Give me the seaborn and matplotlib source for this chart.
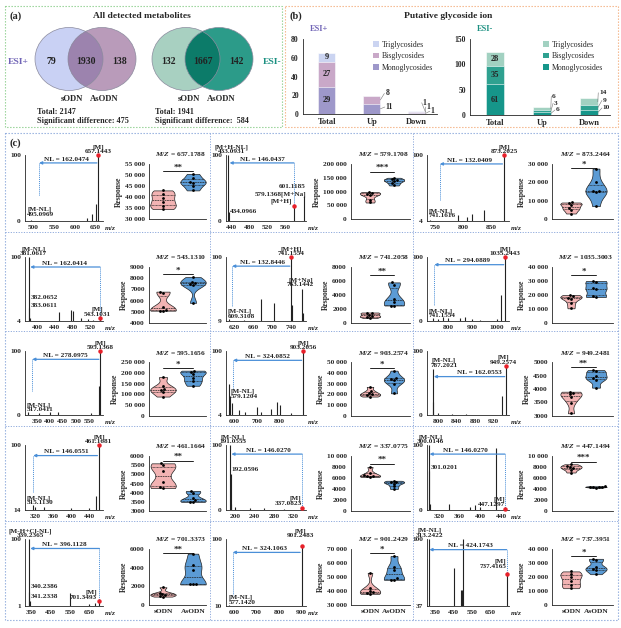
import warnings
warnings.filterwarnings("ignore")
import numpy as np
import pandas as pd
import matplotlib
matplotlib.use("Agg")
import matplotlib.pyplot as plt
import seaborn as sns
from matplotlib.patches import Ellipse, Rectangle, Patch

# ---------------- data ----------------
venn_groups = ["sODN", "AsODN"]
venn_pos_counts = [79, 1930, 138]
venn_neg_counts = [132, 1667, 142]
venn_pos_summary = ["Total: 2147", "Significant difference: 475"]
venn_neg_summary = ["Total: 1941", "Significant difference:  584"]

bar_cats = ["Total", "Up", "Down"]
glyco_types = ["Triglycosides", "Bisglycosides", "Monoglycosides"]
pos_mono = [29, 11, 1]
pos_bi = [27, 8, 1]
pos_tri = [9, 0, 1]
neg_mono = [61, 6, 10]
neg_bi = [35, 3, 9]
neg_tri = [28, 6, 14]
pos_yticks = [0, 20, 40, 60, 80]
neg_yticks = [0, 50, 100, 150]

spec_mz = [
    [495.0969, 630, 641, 650, 657.1443],
    [433.0931, 434.0966, 579.1368, 601.1185],
    [741.1616, 791, 806, 815, 837, 873.2025],
    [381.0617, 382.0652, 383.0611, 450, 478, 482, 500, 515, 528, 543.1031],
    [609.3108, 640, 677, 704, 741.1554, 743, 763.1442, 766],
    [741.1554, 760, 780, 800, 850, 870, 900, 930, 1000, 1017, 1035.2443],
    [317.0411, 360, 400, 430, 560, 590, 595.1368],
    [579.1204, 583, 590, 620, 650, 700, 720, 760, 790, 800, 850, 903.2056],
    [787.2021, 789, 800, 830, 860, 940, 949.2574],
    [315.1130, 320, 340, 400, 440, 455, 461.1681],
    [191.0553, 192.0596, 193, 200, 230, 260, 300, 337.0823],
    [300.0146, 301.0201, 302, 340, 380, 390, 400, 430, 447.1297],
    [339.2365, 340.2386, 341.2338, 550, 650, 680, 701.3493],
    [577.1420, 901.2483],
    [313.2422, 450, 490, 495, 500, 737.4165],
]
spec_int = [
    [2, 5, 10, 26, 100],
    [100, 14, 22, 38],
    [6, 13, 10, 14, 20, 100],
    [100, 24, 9, 18, 20, 19, 9, 7, 6, 8],
    [12, 11, 40, 35, 100, 32, 55, 20],
    [5, 3, 6, 4, 5, 7, 3, 2, 3, 40, 100],
    [4, 3, 5, 4, 3, 45, 100],
    [50, 32, 22, 12, 9, 16, 9, 13, 24, 19, 7, 100],
    [72, 20, 3, 2, 2, 30, 76],
    [20, 18, 18, 17, 17, 32, 100],
    [100, 55, 10, 5, 3, 3, 2, 3],
    [100, 60, 10, 10, 5, 8, 4, 95, 2],
    [100, 22, 8, 20, 4, 5, 8],
    [12, 90],
    [100, 73, 52, 52, 100, 67],
]
prec_mz = [657.1443, 579.1368, 873.2025, 543.1031, 741.1554, 1035.2443, 595.1368,
           903.2056, 949.2574, 461.1681, 337.0823, 447.1297, 701.3493, 901.2483, 737.4165]
nl_labels = ["NL = 162.0474", "NL = 146.0437", "NL = 132.0409", "NL = 162.0414",
             "NL = 132.8446", "NL = 294.0889", "NL = 278.0975", "NL = 324.0852",
             "NL = 162.0553", "NL = 146.0551", "NL = 146.0270", "NL = 146.0270",
             "NL = 396.1128", "NL = 324.1063", "NL = 424.1743"]
spec_xticks = [
    [500, 550, 600, 650], [440, 480, 520, 560], [750, 800, 850],
    [400, 440, 480, 520], [620, 660, 700, 740], [800, 900, 1000],
    [350, 400, 450, 500, 550], [600, 700, 800], [800, 840, 880, 920],
    [320, 360, 400, 440], [200, 240, 280, 320], [320, 360, 400, 440],
    [350, 450, 550, 650], [600, 700, 800, 900], [350, 450, 550, 650],
]
spec_ybottom = [0, 0, 4, 4, 9, 0, 0, 4, 0, 14, 0, 0, 1, 10, 37]
spec_labels = [
    [("[M]\n657.1443", 657, "c"), ("[M-NL]\n495.0969", 485, "l")],
    [("[M+H-NL]\n433.0931", 440, "c"), ("434.0966", 437, "l"), ("601.1185", 604, "r"),
     ("579.1368[M+Na]", 607, "r"), ("[M+H]", 574, "r")],
    [("[M]\n873.2025", 873, "c"), ("[M-NL]\n741.1616", 738, "l")],
    [("[M-NL]\n381.0617", 392, "c"), ("382.0652", 385, "l"), ("383.0611", 385, "l"),
     ("[M]\n543.1031", 536, "c")],
    [("[M+H]\n741.1554", 741, "c"), ("[M+Na]\n763.1442", 760, "c"), ("[M-NL]\n609.3108", 607, "l")],
    [("[M]\n1035.2443", 1035, "c"), ("[M-NL]\n741.1554", 722, "l")],
    [("[M]\n595.1368", 595, "c"), ("[M-NL]\n317.0411", 312, "l")],
    [("[M]\n903.2056", 903, "c"), ("[M-NL]\n579.1204", 585, "l")],
    [("[M-NL]\n787.2021", 784, "l"), ("[M]\n949.2574", 943, "c")],
    [("[M]\n461.1681", 461, "c"), ("[M-NL]\n315.1130", 302, "l")],
    [("[M-NL]\n191.0553", 196, "c"), ("192.0596", 194, "l"), ("[M]\n337.0823", 336, "r")],
    [("[M-NL]\n300.0146", 304, "c"), ("301.0201", 304, "l"), ("[M]\n447.1297", 447, "r")],
    [("[M-H+Cl-NL]\n339.2365", 345, "c"), ("340.2386", 345, "l"), ("341.2338", 345, "l"),
     ("[M]\n701.3493", 690, "r")],
    [("[M]\n901.2483", 895, "c"), ("[M-NL]\n577.1420", 575, "l")],
    [("[M-NL]\n313.2422", 320, "c"), ("[M]\n737.4165", 735, "r")],
]
mz_titles = ["657.1788", "579.1708", "873.2464", "543.1310", "741.2058", "1035.3003",
             "595.1656", "903.2574", "949.2481", "461.1664", "337.0775", "447.1494",
             "701.3373", "901.2429", "737.3951"]
sig_marks = ["**", "***", "*", "*", "**", "*", "*", "*", "**", "**", "**", "***", "**", "*", "*"]
sodn_resp = [
    [43000, 41500, 39500, 37500, 35800, 34500],
    [98000, 95000, 90000, 88000, 70000, 60000],
    [9000, 8500, 7500, 6000, 5000, 3000],
    [6800, 6700, 5400, 5200, 5100, 5100],
    [1500, 1400, 1200, 1000, 900, 700],
    [20000, 19000, 18000, 17500, 14000, 10500],
    [180000, 140000, 125000, 120000, 110000, 90000],
    [27000, 23000, 21000, 20000, 19000, 18000],
    [3900, 3850, 3800, 3700, 3500, 3100],
    [5600, 5500, 5200, 4600, 4300, 4250],
    [8000, 7000, 6500, 6400, 6300, 6200],
    [8500, 8200, 8000, 7800, 7500, 7000],
    [1900, 1300, 1200, 1100, 1000, 900],
    [53000, 42000, 40000, 39000, 38500, 38000],
    [24000, 22000, 20000, 17000, 14000, 12000],
]
asodn_resp = [
    [50500, 48500, 47000, 46500, 45000, 43000],
    [150000, 145000, 140000, 138000, 130000, 122000],
    [27500, 20000, 15000, 15000, 14500, 7000],
    [8100, 7700, 7600, 7500, 7400, 5800],
    [5800, 5500, 3500, 3000, 2500, 2500],
    [30000, 29500, 25000, 24000, 19000, 18500],
    [210000, 205000, 195000, 175000, 160000, 140000],
    [42000, 35000, 34000, 33000, 30000, 21000],
    [4700, 4650, 4500, 4400, 4350, 4050],
    [4100, 4000, 3700, 3600, 3500, 3500],
    [5500, 5300, 5200, 5000, 4500, 4000],
    [4500, 4450, 4400, 4350, 4300, 4200],
    [5500, 4300, 3800, 2300, 2200, 2200],
    [65000, 57000, 55000, 49000, 48000, 48000],
    [33000, 32000, 27000, 26000, 25000, 22000],
]
resp_ticks = [
    [30000, 35000, 40000, 45000, 50000, 55000],
    [0, 50000, 100000, 150000, 200000],
    [0, 10000, 20000, 30000],
    [4000, 5000, 6000, 7000, 8000, 9000],
    [0, 2000, 4000, 6000, 8000],
    [0, 10000, 20000, 30000, 40000],
    [0, 50000, 100000, 150000, 200000, 250000],
    [0, 10000, 20000, 30000, 40000, 50000],
    [3000, 3500, 4000, 4500, 5000],
    [3000, 3500, 4000, 4500, 5000, 5500, 6000],
    [0, 2000, 4000, 6000, 8000, 10000],
    [0, 2000, 4000, 6000, 8000, 10000],
    [0, 2000, 4000, 6000],
    [30000, 40000, 50000, 60000, 70000],
    [0, 10000, 20000, 30000, 40000],
]

# ---------------- layout / style ----------------
spec_xlim = [(480, 668), (428, 606), (735, 882), (372, 550), (603, 772), (715, 1050),
             (305, 605), (565, 915), (775, 955), (298, 470), (182, 345), (297, 455),
             (318, 720), (565, 920), (305, 750)]
label_y = [
    [101, 6], [101, 10, 48, 37, 26], [101, 8], [101, 36, 24, 10], [101, 57, 12],
    [101, 4], [101, 4], [101, 28], [74, 78], [101, 20], [101, 58, 6], [101, 62, 5],
    [101, 26, 12, 10], [101, 12], [101, 72],
]
nl_pos = [(580, 90), (510, 90), (812, 89), (462, 87), (680, 89), (880, 90), (460, 89),
          (745, 88), (890, 62), (390, 88), (268, 88), (372, 88), (520, 88), (735, 84), (540, 92)]
arrow_y = [88, 88, 87, 85, 87, 88, 87, 86, 60, 86, 86, 86, 86, 82, 90]
arrow_head = [514, 436, 758, 384, 616, 745, 333, 596, 790, 316, 193, 302, 345, 595, 318]
dash_style = ["A", "B", "A", "B", "A", "A", "A", "A", "N", "A", "B", "B", "B", "A", "B"]
dash_low = [38, 0, 35, 0, 30, 25, 38, 45, 0, 38, 0, 0, 0, 25, 0]

W, H = 621, 628
spec_cols = [(25, 103), (226, 306), (427, 509)]
spec_rows = [(155, 221), (257, 321), (351, 415), (445, 510), (539, 606)]
vio_cols = [(149, 206), (351, 410), (552, 613)]
vio_rows = [(164, 219), (267, 323), (362, 416), (456, 511), (549, 605)]
vio_cat_px = [(163, 193), (370, 394), (571, 596)]

BLUE = "#4a8fd8"
PINK = "#f2b3b3"
VBLUE = "#5b9bd5"
POS_C = ["#cbd4f1", "#c9a8c8", "#9e98ca"]   # tri, bi, mono
NEG_C = ["#a2d1c1", "#2fa190", "#16968a"]
FS_TICK = 5.3
FS_ANN = 5.2

sns.set_style("white")
plt.rcParams["font.family"] = ["Liberation Serif", "DejaVu Serif"]
plt.rcParams["font.weight"] = "bold"
plt.rcParams["axes.labelweight"] = "bold"
plt.rcParams["mathtext.fontset"] = "custom"
plt.rcParams["mathtext.it"] = "Liberation Serif:italic:bold"
plt.rcParams["mathtext.rm"] = "Liberation Serif:bold"
plt.rcParams["axes.linewidth"] = 0.6

fig = plt.figure(figsize=(W / 100, H / 100), dpi=100)


def add_ax(l, t, r, b):
    return fig.add_axes([l / W, 1 - b / H, (r - l) / W, (b - t) / H])


bg = fig.add_axes([0, 0, 1, 1], zorder=-5)
bg.set_xlim(0, W)
bg.set_ylim(H, 0)
bg.axis("off")

# borders
dot = (0, (1.2, 1.5))
bg.add_patch(Rectangle((5, 6), 277, 121, fill=False, ec="#8fcf8f", lw=0.8, ls=dot))
bg.add_patch(Rectangle((285, 6), 333, 121, fill=False, ec="#f4b183", lw=0.8, ls=dot))
bg.add_patch(Rectangle((5, 133), 613, 487, fill=False, ec="#8faadc", lw=0.8, ls=dot))
for xv in (210, 413):
    bg.plot([xv, xv], [133, 620], color="#8faadc", lw=0.7, ls=dot)
for yv in (232, 331, 426, 521):
    bg.plot([5, 618], [yv, yv], color="#8faadc", lw=0.7, ls=dot)

bg.text(10, 16, "(a)", fontsize=7.5, va="center")
bg.text(289, 16, "(b)", fontsize=7.5, va="center")
bg.text(10, 143, "(c)", fontsize=7.5, va="center")
bg.text(142, 16, "All detected metabolites", fontsize=6.8, ha="center", va="center")
bg.text(448, 16, "Putative glycoside ion", fontsize=6.8, ha="center", va="center")


def venn(cx1, cx2, cy, w, h, c1, c2, c12, counts):
    e1 = Ellipse((cx1, cy), w, h, fc=c1, ec="none")
    e2 = Ellipse((cx2, cy), w, h, fc=c2, ec="none")
    bg.add_patch(e1)
    bg.add_patch(e2)
    e3 = Ellipse((cx2, cy), w, h, fc=c12, ec="none")
    bg.add_patch(e3)
    e3.set_clip_path(e1)
    for cx in (cx1, cx2):
        bg.add_patch(Ellipse((cx, cy), w, h, fill=False, ec="#8b8b9e", lw=0.5))
    xs = [(cx1 - w / 2 + cx2 - w / 2) / 2, (cx2 - w / 2 + cx1 + w / 2) / 2,
          (cx1 + w / 2 + cx2 + w / 2) / 2]
    for x, n in zip(xs, counts):
        bg.text(x, cy + 2, str(n), fontsize=7, ha="center", va="center", color="#222222")
    bg.text(cx1 + 3, 99, venn_groups[0], fontsize=6.2, ha="center", va="center")
    bg.text(cx2 + 2, 99, venn_groups[1], fontsize=6.2, ha="center", va="center")


venn(69, 102, 59, 68, 63, "#c9d1f4", "#b99bba", "#9c83ae", venn_pos_counts)
venn(186, 219, 59, 68, 63, "#a8d0c1", "#2c9b89", "#0c7b69", venn_neg_counts)
bg.text(18, 62, "ESI+", fontsize=6.8, ha="center", va="center", color="#7064b6")
bg.text(272, 62, "ESI-", fontsize=6.8, ha="center", va="center", color="#1a8f80")
for i, t in enumerate(venn_pos_summary):
    bg.text(37, 112 + 9 * i, t, fontsize=5.9, va="center")
for i, t in enumerate(venn_neg_summary):
    bg.text(155, 112 + 9 * i, t, fontsize=5.9, va="center")

# ---------------- panel (b) ----------------
def stacked(ax, mono, bi, tri, cols, yticks, outs, esi, esi_col, out_fs):
    tot = [a + b + c for a, b, c in zip(mono, bi, tri)]
    mb = [a + b for a, b in zip(mono, bi)]
    for vals, c in ((tot, cols[0]), (mb, cols[1]), (mono, cols[2])):
        sns.barplot(x=bar_cats, y=vals, color=c, width=0.38, saturation=1,
                    edgecolor="white", linewidth=0.4, ax=ax)
    ax.set_ylim(yticks[0], yticks[-1])
    ax.set_yticks(yticks)
    ax.set_xlim(-0.53, 2.45)
    sns.despine(ax=ax)
    ax.tick_params(labelsize=5.5, length=2, width=0.5, pad=1)
    segs = [(mono[0], mono[0] / 2), (bi[0], mono[0] + bi[0] / 2), (tri[0], mb[0] + tri[0] / 2)]
    for v, yc in segs:
        ax.text(0, yc, str(v), ha="center", va="center", fontsize=6)
    centers = {"mono": [m / 2 for m in mono], "bi": [m + b / 2 for m, b in zip(mono, bi)],
               "tri": [a + t / 2 for a, t in zip(mb, tri)]}
    vals = {"mono": mono, "bi": bi, "tri": tri}
    for key, xi, lx, ly in outs:
        yc = centers[key][xi]
        ax.plot([xi + 0.19, lx - 0.02], [yc, ly], color="#777777", lw=0.4, clip_on=False)
        ax.text(lx, ly, str(vals[key][xi]), ha="left", va="center", fontsize=out_fs)
    ax.legend(handles=[Patch(fc=c, ec="none") for c in cols], labels=glyco_types,
              loc="upper left", bbox_to_anchor=(0.5, 1.02), frameon=False,
              prop={"size": 5.6, "weight": "normal"}, handlelength=0.7, handleheight=0.7,
              handletextpad=0.4, labelspacing=0.45, borderaxespad=0)
    ax.set_xlabel("")
    ax.set_ylabel("")
    ax.text(0.05, 1.13, esi, transform=ax.transAxes, fontsize=6, color=esi_col,
            ha="left", va="center")


axb1 = add_ax(303, 39, 437, 114)
stacked(axb1, pos_mono, pos_bi, pos_tri, POS_C, pos_yticks,
        [("bi", 1, 1.3, 22), ("mono", 1, 1.31, 7.5), ("tri", 2, 2.13, 12),
         ("bi", 2, 2.22, 7.5), ("mono", 2, 2.31, 3)], "ESI+", "#7064b6", 5.6)
axb2 = add_ax(470, 39, 610, 115)
stacked(axb2, neg_mono, neg_bi, neg_tri, NEG_C, neg_yticks,
        [("tri", 1, 1.22, 37), ("bi", 1, 1.26, 23.5), ("mono", 1, 1.3, 10),
         ("tri", 2, 2.22, 44), ("bi", 2, 2.3, 29), ("mono", 2, 2.3, 14)], "ESI-", "#1a8f80", 5.3)
for ax in (axb1, axb2):
    for lab in ax.get_xticklabels():
        lab.set_fontsize(6)


def fmt(v):
    return f"{v:,}".replace(",", " ") if v >= 10000 else str(v)


# ---------------- panel (c) ----------------
for i in range(15):
    r, c = divmod(i, 3)
    # spectrum
    ax = add_ax(spec_cols[c][0], spec_rows[r][0], spec_cols[c][1], spec_rows[r][1])
    mz, it = spec_mz[i], spec_int[i]
    ymin = spec_ybottom[i]
    ax.vlines(mz, ymin, it, color="#222222", lw=0.8)
    xl = spec_xlim[i]
    span = xl[1] - xl[0]
    ax.set_xlim(xl)
    ax.set_ylim(ymin, 100)
    ax.set_xticks(spec_xticks[i])
    ax.set_yticks([ymin, 100])
    ax.set_yticks([(ymin + 100) / 2], minor=True)
    ax.tick_params(labelsize=FS_TICK, length=2, width=0.5, pad=1)
    ax.tick_params(which="minor", length=2, width=0.5)
    sns.despine(ax=ax)
    ax.text(1.01, -0.05, r"$\mathit{m/z}$", transform=ax.transAxes, fontsize=FS_TICK,
            ha="left", va="top")
    pi = it[mz.index(prec_mz[i])]
    ay, hx, st = arrow_y[i], arrow_head[i], dash_style[i]
    tail = prec_mz[i] if st == "B" else prec_mz[i] - 0.02 * span
    ax.annotate("", xy=(hx, ay), xytext=(tail, ay),
                arrowprops=dict(arrowstyle="-|>", color=BLUE, lw=0.9, mutation_scale=4,
                                shrinkA=0, shrinkB=0))
    if st == "A":
        ax.plot([hx, hx], [ay, dash_low[i]], color=BLUE, lw=0.7, ls=(0, (1, 1)))
    elif st == "B":
        ax.plot([tail, tail], [ay, pi], color=BLUE, lw=0.7, ls=(0, (1, 1)))
    ax.plot([prec_mz[i]], [pi], "o", ms=2.2, color="#e8202a", clip_on=False, zorder=5)
    for (txt, x, ha), y in zip(spec_labels[i], label_y[i]):
        ax.text(x, y, txt, ha={"c": "center", "l": "left", "r": "right"}[ha], va="bottom",
                fontsize=FS_ANN, linespacing=0.92, clip_on=False)
    ax.text(nl_pos[i][0], nl_pos[i][1], nl_labels[i], ha="center", va="bottom", fontsize=FS_ANN)

    # violin
    axv = add_ax(vio_cols[c][0], vio_rows[r][0], vio_cols[c][1], vio_rows[r][1])
    s, a = sodn_resp[i], asodn_resp[i]
    df = pd.DataFrame({"g": [venn_groups[0]] * len(s) + [venn_groups[1]] * len(a),
                       "v": s + a})
    sns.violinplot(data=df, x="g", y="v", hue="g", order=venn_groups, hue_order=venn_groups,
                   palette=[PINK, VBLUE], inner="quart", cut=0, bw_adjust=0.7, width=0.85,
                   linewidth=0.5, linecolor="#222222", saturation=1, legend=False, ax=axv,
                   inner_kws=dict(linewidth=0.5))
    sns.swarmplot(data=df, x="g", y="v", order=venn_groups, color="black", size=2.0, ax=axv)
    c0, c1 = vio_cat_px[c]
    l, rr = vio_cols[c]
    axv.set_xlim((l - c0) / (c1 - c0), (rr - c0) / (c1 - c0))
    tk = resp_ticks[i]
    axv.set_ylim(tk[0], tk[-1])
    axv.set_yticks(tk)
    axv.set_yticklabels([fmt(v) for v in tk])
    axv.set_xlabel("")
    axv.set_ylabel("Response", fontsize=5.5, labelpad=1.5)
    axv.set_xticks([0, 1])
    if r == 4:
        axv.set_xticklabels(venn_groups)
    else:
        axv.set_xticklabels(["", ""])
    axv.tick_params(labelsize=FS_TICK, length=2, width=0.5, pad=1)
    sns.despine(ax=axv)
    span_v = tk[-1] - tk[0]
    mx = (max(max(s), max(a)) - tk[0]) / span_v
    ly = min(0.93, max(0.86, mx + 0.05))
    axv.plot([0, 1], [ly, ly], transform=axv.get_xaxis_transform(), color="#222222",
             lw=0.7, clip_on=False)
    axv.text(0.5, ly - 0.01, sig_marks[i], transform=axv.get_xaxis_transform(), ha="center",
             va="bottom", fontsize=6.5)
    axv.text(0.55, 1.1, r"$\mathit{M/Z}$ = " + mz_titles[i], transform=axv.transAxes,
             ha="center", va="bottom", fontsize=5.4)

fig.savefig("out.png", dpi=100)
